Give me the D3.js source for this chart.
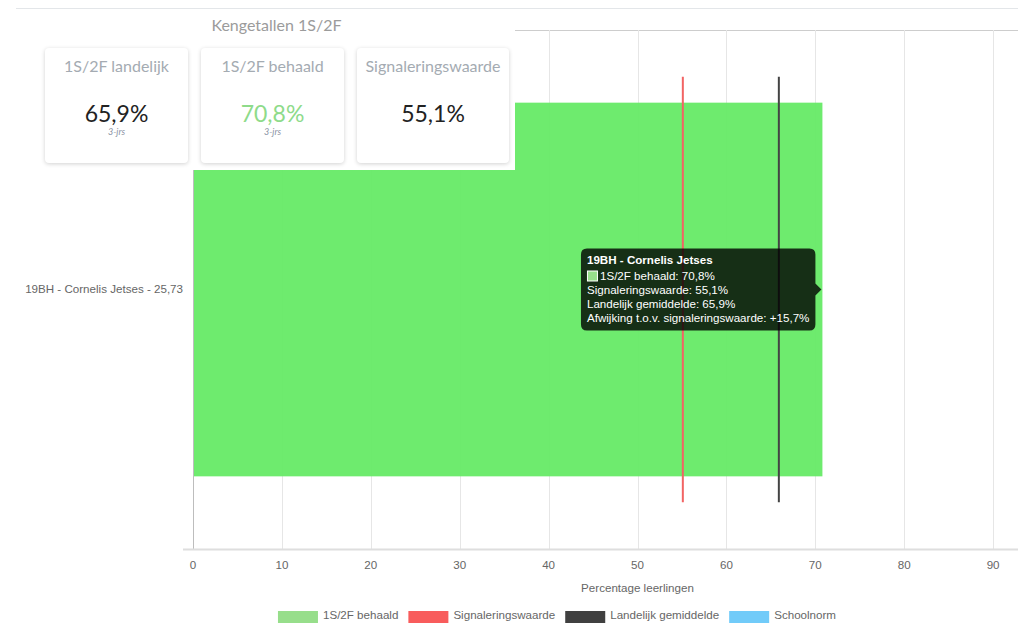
<!DOCTYPE html>
<html lang="nl">
  <head>
    <meta charset="utf-8">
    <title>Kengetallen 1S/2F</title>
    <script src="https://d3js.org/d3.v7.min.js"></script>
    <style type="text/css">
body,html{
    margin: 0;
    padding: 0;
    background: #fff;
    font-family: "Liberation Sans", Arial, sans-serif;
  }
  #wrap{
    position: relative;
    width: 1018px;
    height: 624px;
    overflow: hidden;
  }
  #chart{
    position: absolute;
    left: 0;
    top: 0;
  }
  #kpi{
    position: absolute;
    left: 38px;
    top: 10px;
    width: 477px;
    height: 160px;
    background: #fff;
    font-family: "Lato", "Open Sans", sans-serif;
  }
  .kpi-title{
    position: absolute;
    top: 5px;
    left: 0;
    width: 100%;
    line-height: 20px;
    text-align: center;
    font-size: 16px;
    color: #9b9b9b;
  }
  .card{
    position: absolute;
    top: 38px;
    height: 115px;
    background: #fff;
    border-radius: 4px;
    box-shadow: 0 1px 4px rgba(0,0,0,0.18);
    text-align: center;
  }
  .card div{
    position: absolute;
    left: 0;
    width: 100%;
  }
  .card .lbl{ top: 8px; line-height: 20px; font-size: 16px; color: #a4abb2; }
  .card .val{ top: 51px; line-height: 28px; font-size: 23px; color: #222; }
  .card .sub{ top: 78px; line-height: 12px; font-size: 9px; font-style: italic; color: #8a92a3; }
    </style>
  </head>
  <body>
    <div id="wrap"></div>
    <script type="text/javascript">

      // data
      var categories = ["19BH - Cornelis Jetses - 25,73"];
      var tooltipTitles = ["19BH - Cornelis Jetses"];
      var behaald = [70.8];
      var signalering = [55.1];
      var landelijk = [65.9];
      var xTicks = [0, 10, 20, 30, 40, 50, 60, 70, 80, 90];

      var legendLabels = ["1S/2F behaald", "Signaleringswaarde", "Landelijk gemiddelde", "Schoolnorm"];
      var legendColors = ["#97de8b", "#f85c5c", "#404040", "#71cbf9"];

      var kpiTitle = "Kengetallen 1S/2F";
      var kpiLabels = ["1S/2F landelijk", "1S/2F behaald", "Signaleringswaarde"];
      var kpiValues = [65.9, 70.8, 55.1];
      var kpiSubs = ["3-jrs", "3-jrs", ""];

      function pct(v){ return v.toFixed(1).replace(".", ",") + "%"; }

      var w = 1018, h = 624;
      var fs = "11.6px";
      var plot = { left: 193, top: 30, bottom: 549, right: 1082 };

      var svg = d3.select("#wrap")
        .append("svg")
        .attr("id", "chart")
        .attr("width", w)
        .attr("height", h);

      var x = d3.scaleLinear()
        .domain([0, 100])
        .range([plot.left, plot.right]);

      var y = d3.scaleBand()
        .domain(categories)
        .range([plot.top, plot.bottom])
        .padding(0);

      var barH = y.bandwidth() * 0.72;
      var lineH = y.bandwidth() * 0.82;

      // top rule of the page section
      svg.append("line")
        .attr("x1", 16).attr("x2", w)
        .attr("y1", 8.5).attr("y2", 8.5)
        .attr("stroke", "#e3e6e9");

      // top border of plot
      svg.append("line")
        .attr("x1", plot.left - 10).attr("x2", w)
        .attr("y1", plot.top + 0.5).attr("y2", plot.top + 0.5)
        .attr("stroke", "#cdcdcd");

      // vertical gridlines
      svg.selectAll("line.grid")
        .data(xTicks.slice(1))
        .enter()
        .append("line")
        .attr("class", "grid")
        .attr("x1", function(d){ return Math.round(x(d)) + 0.5; })
        .attr("x2", function(d){ return Math.round(x(d)) + 0.5; })
        .attr("y1", plot.top)
        .attr("y2", plot.bottom)
        .attr("stroke", "#e6e6e6");

      // bars (slightly transparent, gridlines show faintly through)
      svg.selectAll("rect.bar")
        .data(categories)
        .enter()
        .append("rect")
        .attr("class", "bar")
        .attr("x", x(0))
        .attr("y", function(d){ return y(d) + (y.bandwidth() - barH) / 2; })
        .attr("width", function(d, i){ return x(behaald[i]) - x(0); })
        .attr("height", barH)
        .attr("fill", "rgb(99,234,99)")
        .attr("fill-opacity", 0.93);

      // y axis line
      svg.append("line")
        .attr("x1", x(0) + 0.5).attr("x2", x(0) + 0.5)
        .attr("y1", plot.top).attr("y2", plot.bottom)
        .attr("stroke", "#bdbdbd");

      // x axis line
      svg.append("line")
        .attr("x1", plot.left - 10).attr("x2", w)
        .attr("y1", plot.bottom + 0.5).attr("y2", plot.bottom + 0.5)
        .attr("stroke", "#dedede")
        .attr("stroke-width", 2);

      // signaleringswaarde + landelijk lines
      function refLine(values, color){
        svg.selectAll(null)
          .data(categories)
          .enter()
          .append("line")
          .attr("x1", function(d, i){ return x(values[i]); })
          .attr("x2", function(d, i){ return x(values[i]); })
          .attr("y1", function(d){ return y(d) + (y.bandwidth() - lineH) / 2; })
          .attr("y2", function(d){ return y(d) + (y.bandwidth() + lineH) / 2; })
          .attr("stroke", color)
          .attr("stroke-width", 2);
      }
      refLine(signalering, "#f26464");
      refLine(landelijk, "#444");

      // tick labels
      svg.selectAll("text.xtick")
        .data(xTicks)
        .enter()
        .append("text")
        .attr("class", "xtick")
        .attr("x", function(d){ return x(d); })
        .attr("y", 566)
        .attr("text-anchor", "middle")
        .attr("dominant-baseline", "middle")
        .style("font-size", fs)
        .attr("fill", "#666")
        .text(function(d){ return d; });

      svg.append("text")
        .attr("x", (plot.left + plot.right) / 2)
        .attr("y", 589)
        .attr("text-anchor", "middle")
        .attr("dominant-baseline", "middle")
        .style("font-size", fs)
        .attr("fill", "#666")
        .text("Percentage leerlingen");

      svg.selectAll("text.ytick")
        .data(categories)
        .enter()
        .append("text")
        .attr("class", "ytick")
        .attr("x", plot.left - 10)
        .attr("y", function(d){ return y(d) + y.bandwidth() / 2; })
        .attr("text-anchor", "end")
        .attr("dominant-baseline", "middle")
        .style("font-size", fs)
        .attr("fill", "#666")
        .text(function(d){ return d; });

      // legend
      var legend = svg.append("g");
      var lx = 0;
      legendLabels.forEach(function(lab, i){
        var item = legend.append("g").attr("transform", "translate(" + lx + ",0)");
        item.append("rect")
          .attr("x", 0).attr("y", 611)
          .attr("width", 40).attr("height", 12)
          .attr("fill", legendColors[i]);
        var t = item.append("text")
          .attr("x", 45).attr("y", 616)
          .attr("dominant-baseline", "middle")
          .style("font-size", fs)
          .attr("fill", "#666")
          .text(lab);
        lx += 45 + t.node().getComputedTextLength() + 10;
      });
      legend.attr("transform", "translate(" + (557 - (lx - 10) / 2) + ",0)");

      // tooltip
      var tip = svg.append("g");
      var ti = 0;
      var cy = y(categories[ti]) + y.bandwidth() / 2;
      var diff = behaald[ti] - signalering[ti];
      var lines = [
        { text: "1S/2F behaald: " + pct(behaald[ti]), swatch: legendColors[0] },
        { text: "Signaleringswaarde: " + pct(signalering[ti]) },
        { text: "Landelijk gemiddelde: " + pct(landelijk[ti]) },
        { text: "Afwijking t.o.v. signaleringswaarde: " + (diff >= 0 ? "+" : "") + pct(diff) }
      ];
      var tipBg = tip.append("path");
      var texts = tip.append("g");
      texts.append("text")
        .attr("x", 0).attr("y", -29)
        .attr("dominant-baseline", "middle")
        .style("font-size", fs)
        .style("font-weight", "bold")
        .attr("fill", "#fff")
        .text(tooltipTitles[ti]);
      lines.forEach(function(l, i){
        var yy = -13 + i * 14;
        var tx = 0;
        if (l.swatch) {
          texts.append("rect")
            .attr("x", 0.5).attr("y", yy - 5.5)
            .attr("width", 10).attr("height", 10)
            .attr("fill", l.swatch)
            .attr("stroke", "#fff");
          tx = 13;
        }
        texts.append("text")
          .attr("x", tx).attr("y", yy)
          .attr("dominant-baseline", "middle")
          .style("font-size", fs)
          .attr("fill", "#fff")
          .text(l.text);
      });
      var bb = texts.node().getBBox();
      var tw = bb.width + 12, th = 82;
      var tRight = x(behaald[ti]) - 7;
      var tLeft = tRight - tw;
      var tTop = cy - th / 2;
      var tBot = tTop + th;
      texts.attr("transform", "translate(" + (tLeft + 6) + "," + cy + ")");
      var r = 6;
      tipBg.attr("d",
        "M" + (tLeft + r) + "," + tTop +
        "H" + (tRight - r) + "Q" + tRight + "," + tTop + " " + tRight + "," + (tTop + r) +
        "V" + (cy - 6) + "L" + (tRight + 6) + "," + cy + "L" + tRight + "," + (cy + 6) +
        "V" + (tBot - r) + "Q" + tRight + "," + tBot + " " + (tRight - r) + "," + tBot +
        "H" + (tLeft + r) + "Q" + tLeft + "," + tBot + " " + tLeft + "," + (tBot - r) +
        "V" + (tTop + r) + "Q" + tLeft + "," + tTop + " " + (tLeft + r) + "," + tTop + "Z")
        .attr("fill", "rgba(0,0,0,0.8)");

      // kpi panel
      var cardLeft = [7, 163, 319];
      var cardWidth = [143, 143, 152];
      var cardValueColor = ["#222", "#8edb8a", "#222"];

      var kpi = d3.select("#wrap").append("div").attr("id", "kpi");
      kpi.append("div").attr("class", "kpi-title").text(kpiTitle);
      var cards = kpi.selectAll("div.card")
        .data(kpiLabels)
        .enter()
        .append("div")
        .attr("class", "card")
        .style("left", function(d, i){ return cardLeft[i] + "px"; })
        .style("width", function(d, i){ return cardWidth[i] + "px"; });
      cards.append("div").attr("class", "lbl").text(function(d){ return d; });
      cards.append("div").attr("class", "val")
        .style("color", function(d, i){ return cardValueColor[i]; })
        .text(function(d, i){ return pct(kpiValues[i]); });
      cards.append("div").attr("class", "sub").text(function(d, i){ return kpiSubs[i]; });

    </script>
  </body>
</html>
